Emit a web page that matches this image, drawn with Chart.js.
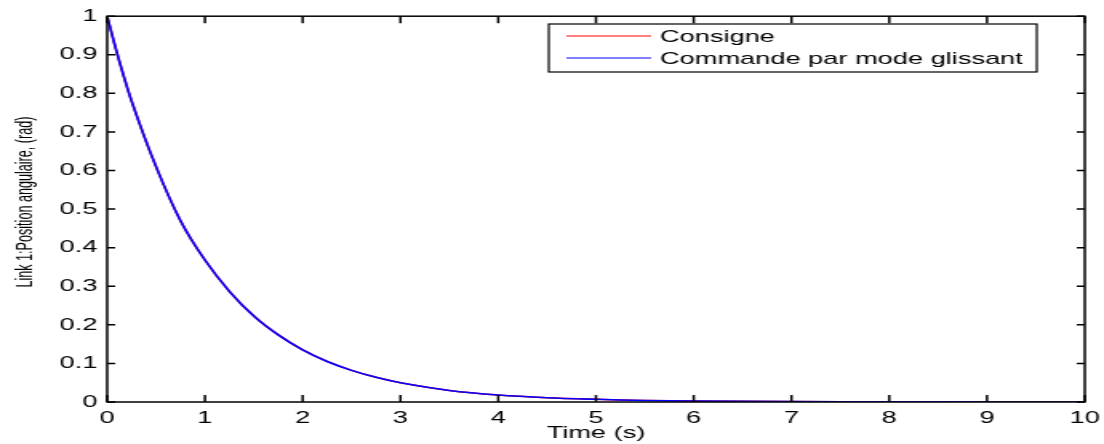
<!DOCTYPE html>
<html>
<head>
<meta charset="utf-8">
<script src="https://cdn.jsdelivr.net/npm/chart.js@4/dist/chart.umd.min.js"></script>
<style>
  html, body { margin: 0; padding: 0; background: #fff; overflow: hidden; }
  /* the original figure was exported stretched sideways, so the text is wide */
  #wrap { width: 690px; height: 444px; transform: scaleX(1.6); transform-origin: 0 0; }
</style>
</head>
<body>
<div id="wrap"><canvas id="posChart" width="690" height="444"></canvas></div>
<script>
// time (s) and angular position (rad)
const timeS = [0, 0.1, 0.25, 0.5, 0.75, 1, 1.25, 1.5, 1.75, 2, 2.25, 2.5, 2.75, 3, 3.5, 4, 4.5, 5, 5.5, 6, 7, 8, 9, 10];
const consigne = [1.0, 0.905, 0.78, 0.61, 0.47, 0.368, 0.287, 0.223, 0.174, 0.135, 0.105, 0.082, 0.064, 0.05, 0.03, 0.018, 0.011, 0.007, 0.004, 0.0025, 0.001, 0.0004, 0.0001, 0.0];
const commande = [1.0, 0.905, 0.78, 0.61, 0.47, 0.368, 0.287, 0.223, 0.174, 0.135, 0.105, 0.082, 0.064, 0.05, 0.03, 0.018, 0.011, 0.007, 0.004, 0.0025, 0.001, 0.0004, 0.0001, 0.0];
const xTicks = [0, 1, 2, 3, 4, 5, 6, 7, 8, 9, 10];
const yTicks = [0, 0.1, 0.2, 0.3, 0.4, 0.5, 0.6, 0.7, 0.8, 0.9, 1];
const yTitle = 'Link 1:Position angulaire, (rad)';

const tickFont = { family: 'Liberation Sans, Arial, sans-serif', size: 17 };

// box + inward ticks, MATLAB style, legend and y label
const axesBox = {
  id: 'axesBox',
  afterDraw(chart) {
    const { ctx, chartArea: a, scales } = chart;
    ctx.save();
    ctx.strokeStyle = '#000';
    ctx.lineWidth = 1.5;
    ctx.strokeRect(a.left, a.top, a.right - a.left, a.bottom - a.top);
    ctx.beginPath();
    xTicks.forEach(v => {
      const px = scales.x.getPixelForValue(v);
      ctx.moveTo(px, a.bottom); ctx.lineTo(px, a.bottom - 7);
      ctx.moveTo(px, a.top); ctx.lineTo(px, a.top + 7);
    });
    yTicks.forEach(v => {
      const py = scales.y.getPixelForValue(v);
      ctx.moveTo(a.left, py); ctx.lineTo(a.left + 5, py);
      ctx.moveTo(a.right, py); ctx.lineTo(a.right - 5, py);
    });
    ctx.stroke();

    // legend box
    const lx = 343, ly = 24, lw = 305, lh = 48;
    ctx.fillStyle = '#fff';
    ctx.fillRect(lx, ly, lw, lh);
    ctx.lineWidth = 1.2;
    ctx.strokeRect(lx, ly, lw, lh);
    ctx.font = '17px Liberation Sans, Arial, sans-serif';
    ctx.textBaseline = 'middle';
    chart.data.datasets.forEach((ds, i) => {
      const y = ly + 12 + i * 22;
      ctx.strokeStyle = ds.borderColor;
      ctx.lineWidth = 1;
      ctx.beginPath();
      ctx.moveTo(354, y); ctx.lineTo(407, y);
      ctx.stroke();
      ctx.fillStyle = '#000';
      ctx.fillText(ds.label, 412.5, y + 1);
    });

    // y title
    ctx.translate(15.6, (a.top + a.bottom) / 2 - 7);
    ctx.rotate(-Math.PI / 2);
    ctx.scale(0.84, 1);
    ctx.font = '15px Liberation Sans, Arial, sans-serif';
    ctx.textAlign = 'center';
    ctx.textBaseline = 'middle';
    ctx.fillStyle = '#000';
    ctx.fillText(yTitle, 0, 0);
    ctx.restore();
  }
};

new Chart(document.getElementById('posChart').getContext('2d'), {
  type: 'line',
  data: {
    datasets: [{
      label: 'Consigne',
      data: timeS.map((t, i) => ({ x: t, y: consigne[i] })),
      borderColor: '#ff0000',
      borderWidth: 1.5,
      pointRadius: 0,
      tension: 0.3,
      order: 2
    }, {
      label: 'Commande par mode glissant',
      data: timeS.map((t, i) => ({ x: t, y: commande[i] })),
      borderColor: '#0000ff',
      borderWidth: 1.6,
      pointRadius: 0,
      tension: 0.3,
      order: 1
    }]
  },
  plugins: [axesBox],
  options: {
    responsive: false,
    animation: false,
    devicePixelRatio: 1,
    layout: { padding: { left: 0, right: 12, top: 12, bottom: 0 } },
    plugins: { legend: { display: false }, tooltip: { enabled: false } },
    scales: {
      x: {
        type: 'linear',
        min: 0, max: 10,
        afterFit: s => { s.height = 42; s.paddingLeft = 0; s.paddingRight = 0; },
        afterBuildTicks: s => { s.ticks = xTicks.map(v => ({ value: v })); },
        grid: { display: false, drawTicks: false },
        border: { display: false },
        ticks: { color: '#000', font: tickFont, padding: 6, maxRotation: 0 },
        title: {
          display: true, text: 'Time (s)', color: '#000',
          font: { family: 'Liberation Sans, Arial, sans-serif', size: 17 },
          padding: { top: 0, bottom: 0 }
        }
      },
      y: {
        min: 0, max: 1,
        afterFit: s => { s.width = 67; },
        afterBuildTicks: s => { s.ticks = yTicks.map(v => ({ value: v })); },
        grid: { display: false, drawTicks: false },
        border: { display: false },
        ticks: { color: '#000', font: tickFont, padding: 6, callback: v => String(v) },
        title: { display: false }
      }
    }
  }
});
</script>
</body>
</html>
